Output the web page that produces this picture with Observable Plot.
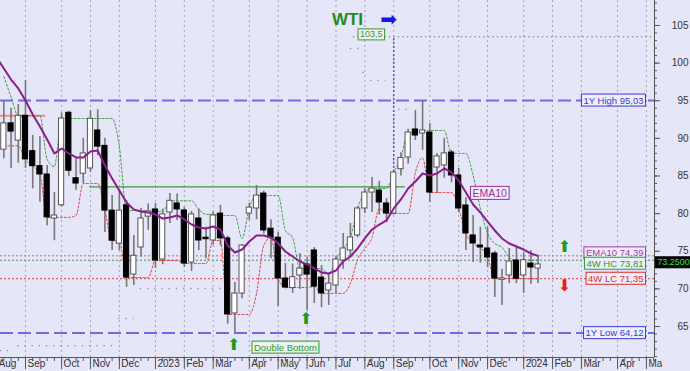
<!DOCTYPE html>
<html><head><meta charset="utf-8">
<script src="https://cdn.jsdelivr.net/npm/d3@7"></script>
<script src="https://cdn.jsdelivr.net/npm/@observablehq/plot@0.6"></script>
<style>
html,body{margin:0;padding:0;background:#e6e6f9;overflow:hidden;}
</style></head><body><div id="chart"></div>
<script>
// ---------- DATA (weekly WTI candles, index = week number, 0 = first week of Sep 2022) ----------
const weekIndex = [-3,-2,-1,0,1,2,3,4,5,6,7,8,9,10,11,12,13,14,15,16,17,18,19,20,21,22,23,24,25,26,27,28,29,30,31,32,33,34,35,36,37,38,39,40,41,42,43,44,45,46,47,48,49,50,51,52,53,54,55,56,57,58,59,60,61,62,63,64,65,66,67,68,69,70,71];
const open  = [88.5,92.0,89.7,93.0,88.3,86.3,85.2,79.35,81.1,93.4,84.7,85.3,86.0,91.05,89.0,80.4,76.0,81.1,71.9,75.5,79.6,80.55,73.9,80.15,81.35,80.42,73.5,79.35,76.8,76.43,80.0,76.7,66.73,69.38,80.0,80.68,82.67,78.0,76.8,71.38,70.1,71.78,73.24,75.1,71.5,69.78,70.45,73.77,75.1,77.1,80.68,82.8,83.07,81.35,80.02,85.9,87.46,91.18,90.65,90.78,86.13,86.4,88.12,85.07,81.08,77.1,75.76,75.37,74.7,71.2,71.78,73.77,71.78,73.37,72.7];
const high  = [95.0,94.0,94.5,97.7,90.4,90.2,86.4,82.8,93.4,93.6,87.3,90.0,93.7,93.8,90.0,82.4,83.1,81.7,77.1,80.7,81.3,81.35,80.6,82.67,82.6,80.8,80.3,80.6,78.2,80.2,81.1,77.0,70.85,75.9,81.35,83.74,83.0,79.2,77.5,73.37,73.3,74.7,74.2,75.5,73.1,71.9,74.3,77.36,78.7,80.9,83.3,84.8,84.3,82.0,85.8,88.1,91.2,93.7,95.03,91.98,88.0,90.0,88.4,86.0,82.1,79.75,78.2,78.2,75.0,72.6,75.37,75.5,74.8,75.1,74.2];
const low   = [87.3,86.0,86.7,86.0,83.3,81.5,78.4,76.4,80.9,84.9,83.1,84.0,85.5,87.7,77.5,75.1,75.1,70.2,70.45,74.2,77.8,72.7,73.2,78.7,79.1,72.84,72.3,75.1,74.0,75.8,75.7,65.3,64.12,68.7,79.1,79.2,77.3,74.0,67.66,70.0,69.4,69.9,67.13,68.06,67.5,67.8,69.4,72.6,74.2,76.8,80.0,80.15,79.8,78.8,79.8,85.0,86.6,89.7,88.4,81.48,82.67,84.7,84.1,80.1,75.1,73.5,73.4,72.8,68.85,67.8,70.7,70.7,69.4,70.6,70.7];
const close = [92.0,90.9,93.0,87.2,86.3,85.2,79.5,79.75,92.64,85.7,84.0,88.0,92.6,88.9,80.4,76.4,80.4,71.5,74.4,79.35,80.3,73.77,79.9,81.7,80.55,73.37,79.9,76.43,76.6,79.75,76.7,66.6,69.38,75.76,80.8,82.4,77.76,76.8,71.38,70.18,71.55,72.7,71.9,70.3,69.4,70.7,73.9,75.37,76.83,80.68,82.8,83.34,81.48,80.02,85.47,87.4,90.78,90.38,91.05,82.8,87.6,88.0,85.07,80.68,77.36,76.03,75.5,74.17,71.38,71.4,73.64,71.35,73.81,72.84,73.25];

// EMA10, index -4 .. 71
const emaIndex = [-4,-3,-2,-1,0,1,2,3,4,5,6,7,8,9,10,11,12,13,14,15,16,17,18,19,20,21,22,23,24,25,26,27,28,29,30,31,32,33,34,35,36,37,38,39,40,41,42,43,44,45,46,47,48,49,50,51,52,53,54,55,56,57,58,59,60,61,62,63,64,65,66,67,68,69,70,71];
const ema10 = [100.75,99.29,97.82,96.63,95.03,93.17,91.58,89.85,87.99,88.65,87.99,87.46,87.46,88.26,88.39,86.40,84.67,83.07,81.48,80.55,80.28,80.15,79.88,79.35,79.48,79.75,79.22,78.55,78.16,78.02,78.29,77.89,75.76,74.83,75.23,76.30,77.10,77.10,76.83,76.03,74.97,74.30,73.64,73.24,72.71,72.18,72.04,72.44,73.64,74.30,75.37,76.70,77.89,78.55,79.09,80.68,81.88,83.34,84.27,85.33,85.07,85.33,86.00,85.47,84.40,82.81,81.21,80.15,78.95,77.76,76.70,76.03,75.63,75.23,74.70,74.39];

// 4-week highest / lowest close channels, index -3 .. 71
const hc4 = [98.2,95.5,93.0,93.0,93.0,93.0,87.2,86.26,92.64,92.64,92.64,92.64,92.64,92.64,92.64,92.64,88.9,80.4,80.4,80.4,80.3,80.3,80.3,81.7,81.7,81.7,81.7,80.55,79.9,79.9,79.75,79.75,79.75,76.7,80.8,82.4,82.4,82.4,82.4,77.76,76.8,72.7,72.7,72.7,72.7,71.9,73.9,75.37,76.83,80.68,82.8,83.34,83.34,83.34,85.47,87.4,90.78,90.78,91.05,91.05,91.05,91.05,88.0,88.0,88.0,85.07,80.68,77.36,76.03,75.5,74.17,73.64,73.81,73.81,73.81];
const lc4 = [89.0,89.0,89.0,87.2,86.26,85.2,79.5,79.5,79.5,79.5,79.75,84.0,84.0,84.0,80.4,76.4,76.4,71.5,71.5,71.5,71.5,73.77,73.77,73.77,73.77,73.37,73.37,73.37,73.37,76.43,76.43,66.6,66.6,66.6,66.6,69.38,75.76,76.8,71.38,70.18,70.18,70.18,70.18,70.3,69.4,69.4,69.4,69.4,70.7,73.9,75.37,76.83,80.68,80.02,80.02,80.02,80.02,85.47,87.4,82.8,82.8,82.8,82.8,80.68,77.36,76.03,75.5,74.17,71.38,71.38,71.38,71.35,71.35,71.35,71.35];

// key levels
const yearHigh = 95.03, yearLow = 64.12, emaLast = 74.39, hcLast = 73.81, lcLast = 71.35, lastPrice = 73.25;
const target = 103.5, targetFrom = 45.4, targetWeek = 51, targetBase = 85.47;
const resistV = 83.55, resistFrom = 8.9, resistTo = 52.6;
const oldResV = 93.0, oldResTo = 2.8;
// faint dotted level marks
const levelV    = [101.94, 98.75, 97.7, 93.84, 70.05, 66.06, 62.47, 61.8];
const levelFrom = [45.0, 46.7, 47.8, 51.7, 15.9, 12.9, -1.1, -3.5];
const levelTo   = [46.2, 46.9, 49.9, 52.9, 28.4, 15.0, 12.2, -2.0];

// axis ticks
const monthIdx = [-4,0,5,9,13,18,22,26,31,35,39,43,47,51,56,60,64,69,73,77,82,86];
const monthLabels = ["Aug","Sep","Oct","Nov","Dec","2023","Feb","Mar","Apr","May","Jun","Jul","Aug","Sep","Oct","Nov","Dec","2024","Feb","Mar","Apr","May"];
const yMajor = [65,70,75,80,85,90,95,100,105];
const yMinor = d3.range(61, 109);
const weekTicks = d3.range(-3, 88);

// labels
const rightLabels = ["1Y High 95,03","EMA10 74,39","4W HC 73,81","4W LC 71,35","1Y Low 64,12"];
const rightLabelV = [yearHigh, emaLast, hcLast, lcLast, yearLow];

// ---------- LAYOUT ----------
const W = 690, H = 371, mR = 36, mB = 14;
const xDom = [-3.463, 87.12], yDom = [60.88, 108.32];
const pxX = (xDom[1]-xDom[0])/(W-mR), pxY = (yDom[1]-yDom[0])/(H-mB);
const bw = 2.6*pxX;
const FONT = "'Liberation Sans', Arial, sans-serif";
const rightDy = [0,-2.5,3.5,0,0];
const rightCol = ["#3b3bd2","#a03aa6","#2f9a2f","#e02a2a","#3b3bd2"];

const candles = weekIndex.map((i,k)=>({i, o:open[k], h:high[k], l:low[k], c:close[k]}));
const ups = candles.filter(d=>d.c>=d.o), downs = candles.filter(d=>d.c<d.o);
const emaData = emaIndex.map((i,k)=>({i, v:ema10[k]}));
const hcData = weekIndex.map((i,k)=>({i, v:hc4[k]}));
const lcData = weekIndex.map((i,k)=>({i, v:lc4[k]}));
const levels = levelV.map((v,k)=>({v, a:levelFrom[k], b:levelTo[k]}));
const rl = rightLabels.map((t,k)=>({t, v:rightLabelV[k], dy:rightDy[k], col:rightCol[k]}));

const boxes = [];
function boxed(tag, stroke, fill){ boxes.push({tag, stroke, fill}); return () => tag; }

const chart = Plot.plot({
  width: W, height: H,
  marginLeft: 0, marginRight: mR, marginTop: 0, marginBottom: mB,
  x: {domain: xDom, axis: null},
  y: {domain: yDom, axis: null},
  style: {background: "#e6e6f9", fontFamily: FONT, fontSize: "10px", overflow: "visible"},
  marks: [
    Plot.ruleX(monthIdx, {stroke: "#a4a4b8", strokeDasharray: "2,3", strokeWidth: 1}),
    Plot.ruleY(levels, {y: "v", x1: "a", x2: "b", stroke: "#8c8c9c", strokeWidth: 1.3, strokeDasharray: "1.3,5.9"}),
    Plot.ruleY([yearHigh, yearLow], {stroke: "#6c6ce6", strokeWidth: 2, strokeDasharray: "13,5"}),
    Plot.ruleY([emaLast], {stroke: "#b064b4", strokeDasharray: "2,2"}),
    Plot.ruleY([hcLast], {stroke: "#3a9a3a", strokeDasharray: "2,2"}),
    Plot.ruleY([lcLast], {stroke: "#e23c3c", strokeDasharray: "2,2"}),
    Plot.ruleY([resistV], {x1: resistFrom, x2: resistTo, stroke: "#3c963c", strokeWidth: 1.2}),
    Plot.ruleY([oldResV], {x1: xDom[0], x2: oldResTo, stroke: "#f08a80", strokeWidth: 2}),
    Plot.ruleY([target], {x1: targetFrom, x2: xDom[1], stroke: "#5e7e5e", strokeDasharray: "1.5,3"}),
    Plot.ruleX([targetWeek], {y1: targetBase, y2: target, stroke: "#5555ea", strokeWidth: 1.5, strokeDasharray: "2,2"}),
    Plot.line(hcData, {x: "i", y: "v", curve: "monotone-x", stroke: "#3a9a3a", strokeWidth: 1, strokeDasharray: "2,2"}),
    Plot.line(lcData, {x: "i", y: "v", curve: "monotone-x", stroke: "#e23c3c", strokeWidth: 1, strokeDasharray: "2,2"}),
    Plot.ruleX(candles, {x: "i", y1: "l", y2: "h", stroke: "#777", strokeWidth: 1.6}),
    Plot.rect(ups, {x1: d=>d.i-bw, x2: d=>d.i+bw, y1: d=>Math.min(d.o,d.c), y2: d=>Math.max(d.o,d.c), fill: "white", stroke: "#555", strokeWidth: 1}),
    Plot.rect(downs, {x1: d=>d.i-bw, x2: d=>d.i+bw, y1: d=>Math.min(d.o,d.c), y2: d=>Math.max(d.o,d.c), fill: "black", stroke: "black", strokeWidth: 1}),
    Plot.line(emaData, {x: "i", y: "v", stroke: "#8a1e8c", strokeWidth: 2}),
    // right axis
    Plot.ruleX([xDom[1]], {stroke: "#555"}),
    Plot.ruleY(yMinor, {x1: xDom[1], x2: xDom[1]+3*pxX, stroke: "#555"}),
    Plot.ruleY(yMajor, {x1: xDom[1], x2: xDom[1]+6*pxX, stroke: "#555"}),
    Plot.text(yMajor, {y: d=>d, x: xDom[1], dx: 34, text: d=>String(d), textAnchor: "end", fill: "#333", fontSize: 10}),
    // bottom axis
    Plot.ruleY([yDom[0]], {stroke: "#555"}),
    Plot.ruleX(weekTicks, {y1: yDom[0], y2: yDom[0]-4*pxY, stroke: "#555"}),
    Plot.ruleX(monthIdx, {y1: yDom[0], y2: yDom[0]-12*pxY, stroke: "#555"}),
    Plot.text(monthIdx, {x: d=>d, y: yDom[0], text: (d,k)=>monthLabels[k], textAnchor: "start", lineAnchor: "top", dx: 2, dy: 2, fill: "#333", fontSize: 10, ariaLabel: () => "month-labels"}),
    // annotations
    Plot.text(["WTI"], {frameAnchor: "top-left", dx: 347, dy: 19, textAnchor: "middle", lineAnchor: "middle", text: d=>d, fontWeight: "bold", fontSize: 17, fill: "#1e8c1e"}),
    Plot.text(["\u27A1"], {frameAnchor: "top-left", dx: 388, dy: 19, textAnchor: "middle", lineAnchor: "middle", text: d=>d, fontSize: 20, fill: "#1616e6", fontFamily: "DejaVu Sans"}),
    Plot.text(rl, {frameAnchor: "right", y: "v", dx: -11, text: "t", fill: "col", fontSize: 9.5, textAnchor: "end", ariaLabel: () => "rlab"}),
    Plot.text(["EMA10"], {x: 64.3, y: 82.67, text: d=>d, fill: "#9a2f9e", fontSize: 10.5, ariaLabel: boxed("emalab", "#9a2f9e", "#f2eef8")}),
    Plot.text(["Double Bottom"], {x: 36.0, y: 62.2, text: d=>d, fill: "#2f9a2f", fontSize: 9.5, ariaLabel: boxed("dblab", "#2f9a2f", "#eef2ee")}),
    Plot.text(["103,5"], {x: 47.9, y: 103.8, text: d=>d, fill: "#4f8a4f", fontSize: 9, ariaLabel: boxed("tgtlab", "#3a9a3a", "#eef2ee")}),
    Plot.text([lastPrice], {x: xDom[1], y: d=>d, dx: 19, dy: -2, text: d=>d.toFixed(4), fill: "#3ce23c", fontSize: 9, ariaLabel: boxed("pricelab", "black", "black")}),
    Plot.text([28.85, 38.85, 74.65], {x: d=>d, y: (d,k)=>[62.6,66.06,75.6][k], text: ()=>"\u2B06", fill: "#1a9a1a", fontSize: 16, fontFamily: "DejaVu Sans"}),
    Plot.text([74.65], {x: d=>d, y: 70.4, text: ()=>"\u2B07", fill: "#e81c1c", fontSize: 16, fontFamily: "DejaVu Sans"})
  ]
});
document.getElementById("chart").appendChild(chart);

const svgNode = chart.tagName.toLowerCase() === "svg" ? chart : chart.querySelector("svg");
const svg = d3.select(svgNode);
function addBoxes(nodes, strokeF, fillF){
  nodes.forEach((t, k) => {
    const bb = t.getBBox();
    const r = document.createElementNS("http://www.w3.org/2000/svg", "rect");
    r.setAttribute("x", bb.x-2); r.setAttribute("y", bb.y-0.5);
    r.setAttribute("width", bb.width+4); r.setAttribute("height", bb.height+1);
    const tr = t.getAttribute("transform"); if (tr) r.setAttribute("transform", tr);
    r.setAttribute("fill", fillF(k)); r.setAttribute("stroke", strokeF(k)); r.setAttribute("stroke-width", 1);
    t.parentNode.insertBefore(r, t);
    t.__box = r;
  });
}
const rtexts = Array.from(svgNode.querySelectorAll('text[aria-label="rlab"]'));
addBoxes(rtexts, k=>rl[k].col, ()=>"#eeeefb");
rtexts.forEach((t, k) => {
  const dy = rl[k].dy;
  if (dy) for (const el of [t, t.__box]) { const tr = el.getAttribute("transform") || ""; el.setAttribute("transform", `translate(0,${dy}) ${tr}`); }
});
for (const b of boxes) addBoxes(Array.from(svgNode.querySelectorAll(`text[aria-label="${b.tag}"]`)), ()=>b.stroke, ()=>b.fill);

// clip month labels at the price axis
const mtexts = svgNode.querySelectorAll('text[aria-label="month-labels"]');
if (mtexts.length) {
  const ml = mtexts[0].parentNode;
  const defs = svg.append("defs");
  defs.append("clipPath").attr("id", "xclip").append("rect").attr("x", -20).attr("y", -20).attr("width", W-mR+28).attr("height", H+40);
  const wrap = document.createElementNS("http://www.w3.org/2000/svg", "g");
  ml.parentNode.insertBefore(wrap, ml); wrap.appendChild(ml);
  wrap.setAttribute("clip-path", "url(#xclip)");
}
</script></body></html>
